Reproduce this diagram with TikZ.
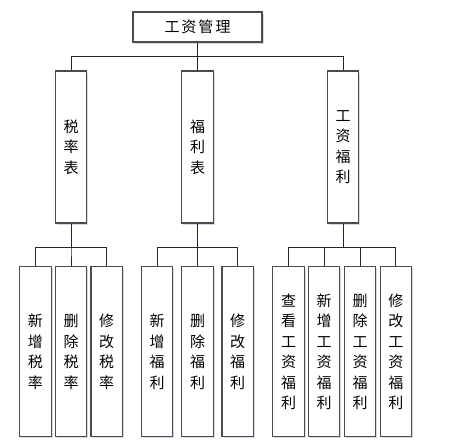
\documentclass[tikz,border=0pt]{standalone}
\usepackage{fontspec}
\newfontfamily\cjk{Noto Sans CJK SC}
\usetikzlibrary{shadows}
\tikzset{
	box/.style={draw=black!70, line width=1.1pt, fill=white, inner sep=0pt, align=center,
		font=\cjk\fontsize{15}{20.5}\selectfont,
		drop shadow={shadow xshift=1.5pt, shadow yshift=-1.8pt, fill=blue!30!gray!40, opacity=0.6}},
	tall/.style={box, minimum width=31.5pt, minimum height=152pt},
	taller/.style={box, minimum width=31.5pt, minimum height=170pt},
	link/.style={line width=0.9pt, black!85}
}
\begin{document}
\begin{tikzpicture}[x=1pt, y=1pt]
	\useasboundingbox (0,0) rectangle (467,444);

	\node[box, minimum width=129pt, minimum height=30pt] (root) at (197.5,417) {工\hspace{2pt}资\hspace{2pt}管\hspace{2pt}理};

	\node[tall] (shui) at (71,297) {税\\率\\表};
	\node[tall] (fuli) at (197.5,297) {福\\利\\表};
	\node[tall] (gzfl) at (343,297) {工\\资\\福\\利};

	\node[taller] (s1) at (35.3,92.3) {新\\增\\税\\率};
	\node[taller] (s2) at (71,92.3) {删\\除\\税\\率};
	\node[taller] (s3) at (106.7,92.3) {修\\改\\税\\率};

	\node[taller] (f1) at (157,92.3) {新\\增\\福\\利};
	\node[taller] (f2) at (197.5,92.3) {删\\除\\福\\利};
	\node[taller] (f3) at (237.7,92.3) {修\\改\\福\\利};

	\node[taller] (g1) at (288.5,92.3) {查\\看\\工\\资\\福\\利};
	\node[taller] (g2) at (324,92.3) {新\\增\\工\\资\\福\\利};
	\node[taller] (g3) at (360,92.3) {删\\除\\工\\资\\福\\利};
	\node[taller] (g4) at (395.8,92.3) {修\\改\\工\\资\\福\\利};

	\foreach \c in {shui,fuli,gzfl}
		\draw[link] (root.south) -- ++(0,-13.5) -| (\c.north);
	\foreach \c in {s1,s2,s3}
		\draw[link] (shui.south) -- ++(0,-23.7) -| (\c.north);
	\foreach \c in {f1,f2,f3}
		\draw[link] (fuli.south) -- ++(0,-23.7) -| (\c.north);
	\foreach \c in {g1,g2,g3,g4}
		\draw[link] (gzfl.south) -- ++(0,-23.7) -| (\c.north);
\end{tikzpicture}
\end{document}
